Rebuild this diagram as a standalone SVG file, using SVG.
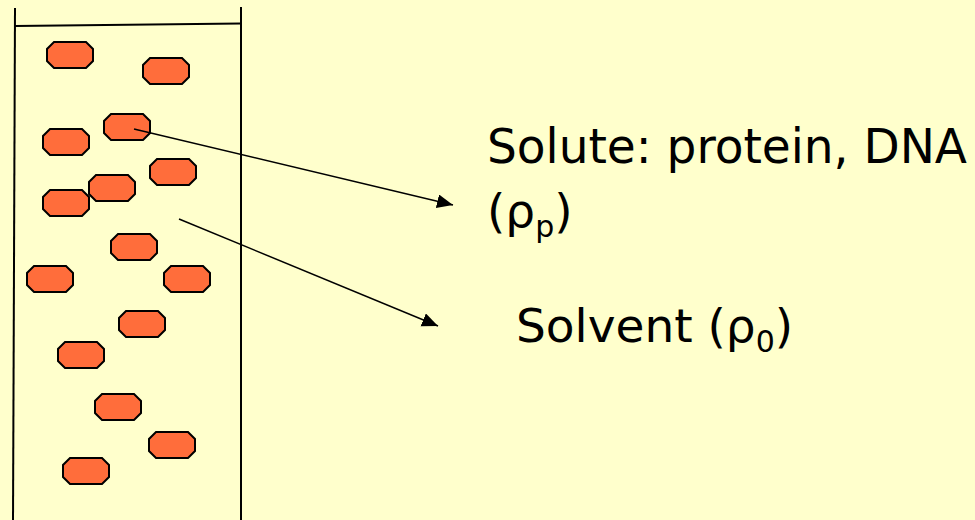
<svg xmlns="http://www.w3.org/2000/svg" xmlns:xlink="http://www.w3.org/1999/xlink" width="975" height="520" viewBox="0 0 975 520">
  <style>
    .oct { fill: #FF6D3B; stroke: #000; stroke-width: 2; stroke-linejoin: miter; }
    .wall { stroke: #000; stroke-width: 2; fill: none; }
    .conn { stroke: #000; stroke-width: 1.5; fill: none; marker-end: url(#arrow); }
    .lbl { font-family: "DejaVu Sans", Verdana, sans-serif; font-size: 48px; fill: #000; }
    .sub { font-size: 30px; }
  </style>
  <defs>
    <marker id="arrow" markerUnits="userSpaceOnUse" markerWidth="18" markerHeight="16" refX="16" refY="7" orient="auto">
      <path d="M0,0 L16,7 L0,14 Z" fill="#000"/>
    </marker>
    <polygon id="octShape" class="oct" points="7,0 39,0 46,7 46,19 39,26 7,26 0,19 0,7"/>
  </defs>
  <rect width="975" height="520" fill="#FFFFCC"/>

  <g id="tank">
    <line class="wall" x1="15" y1="8" x2="13" y2="520"/>
    <line class="wall" x1="241" y1="7" x2="241" y2="520"/>
    <line class="wall" x1="15" y1="26" x2="241" y2="23.5"/>
  </g>

  <g id="p1"><use xlink:href="#octShape" x="47" y="42"/></g>
  <g id="p2"><use xlink:href="#octShape" x="143" y="58"/></g>
  <g id="p3"><use xlink:href="#octShape" x="104" y="114"/></g>
  <g id="p4"><use xlink:href="#octShape" x="43" y="129"/></g>
  <g id="p5"><use xlink:href="#octShape" x="150" y="159"/></g>
  <g id="p6"><use xlink:href="#octShape" x="89" y="175"/></g>
  <g id="p7"><use xlink:href="#octShape" x="43" y="190"/></g>
  <g id="p8"><use xlink:href="#octShape" x="111" y="234"/></g>
  <g id="p9"><use xlink:href="#octShape" x="27" y="266"/></g>
  <g id="p10"><use xlink:href="#octShape" x="164" y="266"/></g>
  <g id="p11"><use xlink:href="#octShape" x="119" y="311"/></g>
  <g id="p12"><use xlink:href="#octShape" x="58" y="342"/></g>
  <g id="p13"><use xlink:href="#octShape" x="95" y="394"/></g>
  <g id="p14"><use xlink:href="#octShape" x="149" y="432"/></g>
  <g id="p15"><use xlink:href="#octShape" x="63" y="458"/></g>

  <g id="connectors">
    <line class="conn" x1="134" y1="129" x2="453" y2="205"/>
    <line class="conn" x1="179" y1="219" x2="438" y2="326"/>
  </g>

  <g id="solute-label">
    <text class="lbl" x="487" y="163" textLength="480" lengthAdjust="spacingAndGlyphs">Solute: protein, DNA</text>
    <text class="lbl" x="487" y="227" style="font-size:47px">(ρ<tspan class="sub" dy="10">p</tspan><tspan dy="-10">)</tspan></text>
  </g>

  <g id="solvent-label">
    <text class="lbl" x="516" y="342" style="font-size:47px">Solvent (ρ<tspan class="sub" dy="10">0</tspan><tspan dy="-10">)</tspan></text>
  </g>
</svg>
